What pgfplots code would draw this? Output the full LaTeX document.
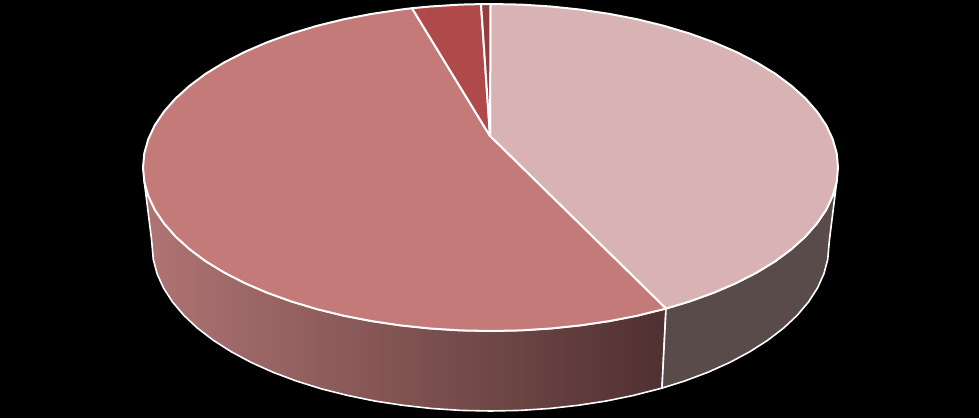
\documentclass[border=0pt]{standalone}
\usepackage{pgfplots}
\pgfplotsset{compat=1.18}
\definecolor{sliceA}{RGB}{217,179,179}
\definecolor{sliceB}{RGB}{197,122,122}
\definecolor{sliceC}{RGB}{176,74,74}
\definecolor{sliceD}{RGB}{150,60,60}
\definecolor{sideA}{RGB}{90,75,75}
\definecolor{sideL}{RGB}{176,116,116}
\definecolor{sideR}{RGB}{80,48,48}
\begin{document}
\begin{tikzpicture}
\begin{axis}[
  scale only axis, width=979pt, height=418pt,
  xmin=0, xmax=979, ymin=0, ymax=418, y dir=reverse,
  axis lines=none, ticks=none,
  axis background/.style={fill=black},
  no markers,
]
% side, large slice
\addplot[draw=white, line width=1.6pt, line join=round, left color=sideL, right color=sideR] coordinates {
(666,308.6)(637.4,315.7)(609.4,321.1)(580.4,325.4)(550.8,328.5)(520.8,330.4)(490.5,331)
(460.2,330.4)(430.2,328.5)(400.6,325.4)(371.6,321.1)(343.6,315.7)(316.75,309.1)(291.2,301.4)
(267.1,292.7)(244.8,283.1)(224.3,272.6)(205.8,261.3)(189.6,249.25)(175.6,236.6)(164,223.4)
(154.8,209.8)(148.3,195.9)(144.3,181.75)
(151.6,240)(153.3,259.5)(157.1,273.8)(163.5,288)(172.4,301.8)(183.7,315.2)(197.3,328)(213.2,340.2)
(231.2,351.7)(251.1,362.4)(272.9,372.2)(296.3,381)(321.25,388.8)(347.4,395.4)(374.7,401)
(402.9,405.3)(431.7,408.5)(461,410.4)(490.5,411)(520,410.4)(549.3,408.5)(578.1,405.3)
(606.3,401)(633.6,395.4)(662,388.1)
} -- cycle;
% side, right slice
\addplot[draw=white, line width=1.6pt, line join=round, fill=sideA] coordinates {
(836.7,181.75)(832.7,195.9)(826.2,209.8)(817,223.4)(805.4,236.6)(791.4,249.25)(775.2,261.3)
(756.7,272.6)(736.2,283.1)(713.9,292.7)(689.8,301.4)(666,308.6)
(662,388.1)(684.7,381)(708.1,372.2)(729.9,362.4)(749.8,351.7)(767.8,340.2)(783.7,328)
(797.3,315.2)(808.6,301.8)(817.5,288)(823.9,273.8)(827.7,259.5)(829.4,240)
} -- cycle;
% top, light slice
\addplot[draw=white, line width=2pt, line join=round, fill=sliceA] coordinates {
(490,136)(490.5,4)(520.8,4.6)(550.8,6.5)(580.4,9.6)(609.4,13.9)(637.4,19.3)(664.25,25.9)
(689.8,33.6)(713.9,42.3)(736.2,51.9)(756.7,62.4)(775.2,73.7)(791.4,85.75)(805.4,98.4)(817,111.6)
(826.2,125.2)(832.7,139.1)(836.7,153.25)(838,167.5)(836.7,181.75)(832.7,195.9)(826.2,209.8)
(817,223.4)(805.4,236.6)(791.4,249.25)(775.2,261.3)(756.7,272.6)(736.2,283.1)(713.9,292.7)
(689.8,301.4)(666,308.6)
} -- cycle;
% top, large slice
\addplot[draw=white, line width=2pt, line join=round, fill=sliceB] coordinates {
(490,136)(666,308.6)(637.4,315.7)(609.4,321.1)(580.4,325.4)(550.8,328.5)(520.8,330.4)(490.5,331)
(460.2,330.4)(430.2,328.5)(400.6,325.4)(371.6,321.1)(343.6,315.7)(316.75,309.1)(291.2,301.4)
(267.1,292.7)(244.8,283.1)(224.3,272.6)(205.8,261.3)(189.6,249.25)(175.6,236.6)(164,223.4)
(154.8,209.8)(148.3,195.9)(144.3,181.75)(143,167.5)(144.3,153.25)(148.3,139.1)(154.8,125.2)
(164,111.6)(175.6,98.4)(189.6,85.75)(205.8,73.7)(224.3,62.4)(244.8,51.9)(267.1,42.3)(291.2,33.6)
(316.75,25.9)(343.6,19.3)(371.6,13.9)(400.6,9.6)(412,8.2)
} -- cycle;
% top, small slices
\addplot[draw=white, line width=2pt, line join=round, fill=sliceC] coordinates {
(490,136)(412,8.2)(430.2,6.5)(460.2,4.6)(481,4.1)
} -- cycle;
\addplot[draw=white, line width=2pt, line join=round, fill=sliceD] coordinates {
(490,136)(481,4.1)(490.5,4)
} -- cycle;
\end{axis}
\end{tikzpicture}
\end{document}
